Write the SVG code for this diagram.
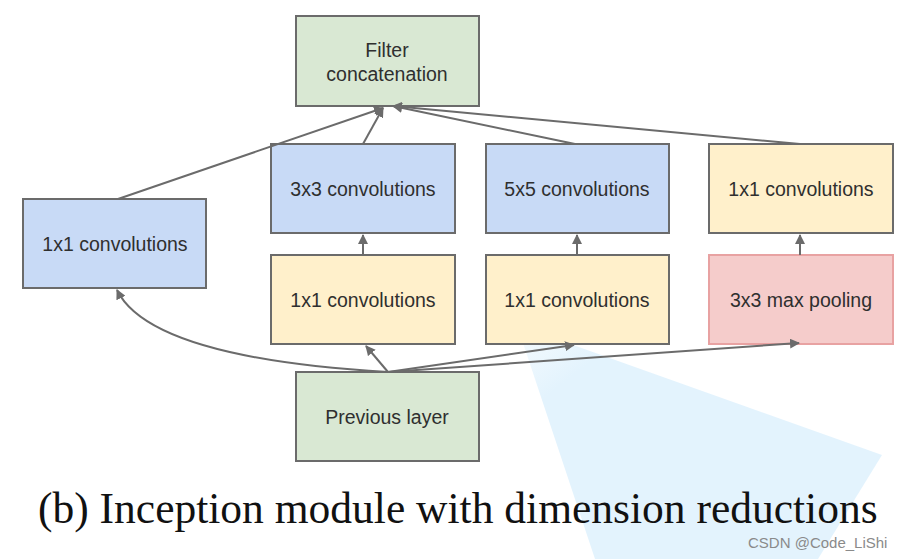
<svg xmlns="http://www.w3.org/2000/svg" width="901" height="559" viewBox="0 0 901 559">
<defs>
<style>
.box{stroke:#6b6b6b;stroke-width:2}
.g{fill:#d9e8d3}.b{fill:#c8daf6}.y{fill:#fff0cb}.p{fill:#f5cccb;stroke:#e8a2a2}
.lbl{font-family:"Liberation Sans",Arial,sans-serif;font-size:19.5px;fill:#2f2f2f;text-anchor:middle}
.c{fill:none;stroke:#6b6b6b;stroke-width:2}
.cap{font-family:"Liberation Serif","Times New Roman",serif;font-size:43.5px;fill:#111}
.wm{font-family:"Liberation Sans",Arial,sans-serif;font-size:15px;fill:#8a8a8a}
</style>
<linearGradient id="glow" x1="517" y1="325" x2="700" y2="559" gradientUnits="userSpaceOnUse">
<stop offset="0" stop-color="#e3f3fd" stop-opacity="0.3"/>
<stop offset="0.25" stop-color="#e3f3fd" stop-opacity="1"/>
</linearGradient>
<marker id="ah" viewBox="0 0 10 10" refX="9" refY="5" markerWidth="5" markerHeight="5" orient="auto" markerUnits="strokeWidth">
<path d="M0,0 L10,5 L0,10 z" fill="#6b6b6b"/>
</marker>
</defs>
<rect width="901" height="559" fill="#fff"/>
<polygon points="517,325 882,455 818,559 595,559" fill="url(#glow)"/>
<g id="filter-concat"><rect class="box g" x="296" y="16" width="183" height="90"/><text class="lbl" x="387" y="57">Filter</text><text class="lbl" x="387" y="81">concatenation</text></g>
<g id="conv1x1-left"><rect class="box b" x="23" y="199" width="183" height="89"/><text class="lbl" x="115" y="251">1x1 convolutions</text></g>
<g id="conv3x3"><rect class="box b" x="271" y="144" width="184" height="89"/><text class="lbl" x="363" y="196">3x3 convolutions</text></g>
<g id="conv5x5"><rect class="box b" x="486" y="144" width="183" height="89"/><text class="lbl" x="577" y="196">5x5 convolutions</text></g>
<g id="conv1x1-pool"><rect class="box y" x="709" y="144" width="184" height="89"/><text class="lbl" x="801" y="196">1x1 convolutions</text></g>
<g id="conv1x1-a"><rect class="box y" x="271" y="255" width="184" height="89"/><text class="lbl" x="363" y="307">1x1 convolutions</text></g>
<g id="conv1x1-b"><rect class="box y" x="486" y="255" width="183" height="89"/><text class="lbl" x="577" y="307">1x1 convolutions</text></g>
<g id="maxpool"><rect class="box p" x="709" y="255" width="184" height="89"/><text class="lbl" x="801" y="307">3x3 max pooling</text></g>
<g id="previous"><rect class="box g" x="296" y="372" width="183" height="89"/><text class="lbl" x="387" y="424">Previous layer</text></g>
<g id="connectors">
<path class="c" d="M118,199 L383,108" marker-end="url(#ah)"/>
<path class="c" d="M363,144 L383,108" marker-end="url(#ah)"/>
<path class="c" d="M575,144 L393,106" marker-end="url(#ah)"/>
<path class="c" d="M800,144 L393,106" marker-end="url(#ah)"/>
<path class="c" d="M363,255 L363,235" marker-end="url(#ah)"/>
<path class="c" d="M577,255 L577,235" marker-end="url(#ah)"/>
<path class="c" d="M800,255 L800,235" marker-end="url(#ah)"/>
<path class="c" d="M388,372 Q150,358 117,290" marker-end="url(#ah)"/>
<path class="c" d="M388,372 L366,346" marker-end="url(#ah)"/>
<path class="c" d="M388,372 L574,345" marker-end="url(#ah)"/>
<path class="c" d="M388,372 L799,343" marker-end="url(#ah)"/>
</g>
<text class="cap" x="38" y="523">(b) Inception module with dimension reductions</text>
<text class="wm" x="748" y="548">CSDN @Code_LiShi</text>
</svg>
